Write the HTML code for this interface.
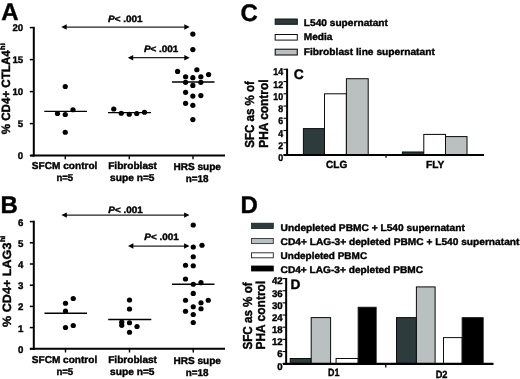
<!DOCTYPE html>
<html><head><meta charset="utf-8"><title>Figure</title>
<style>
html,body{margin:0;padding:0;background:#fff;}
svg{display:block;}
text{font-family:"Liberation Sans",sans-serif;font-weight:bold;fill:#000;stroke:#000;stroke-width:0.4px;text-rendering:geometricPrecision;}
</style></head><body>
<svg width="520" height="379" viewBox="0 0 520 379">
<defs><filter id="soft" x="0" y="0" width="520" height="379" filterUnits="userSpaceOnUse"><feGaussianBlur stdDeviation="0.4"/></filter></defs>
<rect x="0" y="0" width="520" height="379" fill="#fff"/>
<g filter="url(#soft)">
<text x="1.3" y="20.3" font-size="24" text-anchor="start" >A</text>
<line x1="33.8" y1="26.8" x2="33.8" y2="156.6" stroke="#000" stroke-width="2.0"/>
<line x1="30.4" y1="155.6" x2="225" y2="155.6" stroke="#000" stroke-width="2.0"/>
<line x1="29.8" y1="27.599999999999994" x2="33.8" y2="27.599999999999994" stroke="#000" stroke-width="1.5"/>
<text x="23.2" y="31.399999999999995" font-size="9.6" text-anchor="end" >20</text>
<line x1="29.8" y1="59.599999999999994" x2="33.8" y2="59.599999999999994" stroke="#000" stroke-width="1.5"/>
<text x="23.2" y="63.39999999999999" font-size="9.6" text-anchor="end" >15</text>
<line x1="29.8" y1="91.6" x2="33.8" y2="91.6" stroke="#000" stroke-width="1.5"/>
<text x="23.2" y="95.39999999999999" font-size="9.6" text-anchor="end" >10</text>
<line x1="29.8" y1="123.6" x2="33.8" y2="123.6" stroke="#000" stroke-width="1.5"/>
<text x="23.2" y="127.39999999999999" font-size="9.6" text-anchor="end" >5</text>
<line x1="29.8" y1="155.6" x2="33.8" y2="155.6" stroke="#000" stroke-width="1.5"/>
<text x="23.2" y="159.4" font-size="9.6" text-anchor="end" >0</text>
<line x1="65.3" y1="155.6" x2="65.3" y2="159.2" stroke="#000" stroke-width="1.4"/>
<line x1="129.3" y1="155.6" x2="129.3" y2="159.2" stroke="#000" stroke-width="1.4"/>
<line x1="193" y1="155.6" x2="193" y2="159.2" stroke="#000" stroke-width="1.4"/>
<text transform="translate(10.4,134.3) rotate(-90)" font-size="12" textLength="84" lengthAdjust="spacingAndGlyphs">% CD4+ CTLA4</text>
<text transform="translate(5.3,49.9) rotate(-90)" font-size="7.5" textLength="6.6" lengthAdjust="spacingAndGlyphs">hi</text>
<line x1="64.3" y1="27" x2="186.7" y2="27" stroke="#222" stroke-width="1.25"/>
<polygon points="61.3,27 66.7,24.3 66.7,29.7"/>
<polygon points="189.7,27 184.29999999999998,24.3 184.29999999999998,29.7"/>
<line x1="130.8" y1="57.7" x2="186.7" y2="57.7" stroke="#222" stroke-width="1.25"/>
<polygon points="127.8,57.7 133.2,55.0 133.2,60.400000000000006"/>
<polygon points="189.7,57.7 184.29999999999998,55.0 184.29999999999998,60.400000000000006"/>
<text x="108.1" y="21.9" font-size="9.3" textLength="34.5" lengthAdjust="spacingAndGlyphs"><tspan font-style="italic">P</tspan>&lt; .001</text>
<text x="143.9" y="51.9" font-size="9.3" textLength="34.5" lengthAdjust="spacingAndGlyphs"><tspan font-style="italic">P</tspan>&lt; .001</text>
<circle cx="65.25" cy="86.5" r="2.62"/>
<circle cx="73" cy="109.75" r="2.62"/>
<circle cx="57.5" cy="113.5" r="2.62"/>
<circle cx="65.25" cy="114.5" r="2.62"/>
<circle cx="65.25" cy="132.25" r="2.62"/>
<circle cx="113.75" cy="109.0" r="2.62"/>
<circle cx="121.25" cy="113.25" r="2.62"/>
<circle cx="129.25" cy="114.25" r="2.62"/>
<circle cx="136.75" cy="113.5" r="2.62"/>
<circle cx="144.5" cy="112.25" r="2.62"/>
<circle cx="192.85" cy="34.1" r="2.62"/>
<circle cx="192.85" cy="49.6" r="2.62"/>
<circle cx="196.85" cy="69.75" r="2.62"/>
<circle cx="177.6" cy="71.44999999999999" r="2.62"/>
<circle cx="208.6" cy="74.6" r="2.62"/>
<circle cx="185.6" cy="76.75" r="2.62"/>
<circle cx="192.85" cy="77.64999999999999" r="2.62"/>
<circle cx="200.85" cy="76.75" r="2.62"/>
<circle cx="185.6" cy="82.35" r="2.62"/>
<circle cx="200.85" cy="82.35" r="2.62"/>
<circle cx="192.85" cy="85.44999999999999" r="2.62"/>
<circle cx="185.6" cy="92.35" r="2.62"/>
<circle cx="192.85" cy="96.1" r="2.62"/>
<circle cx="200.85" cy="95.55" r="2.62"/>
<circle cx="185.6" cy="103.35" r="2.62"/>
<circle cx="192.85" cy="105.35" r="2.62"/>
<circle cx="192.85" cy="119.6" r="2.62"/>
<line x1="44.3" y1="111.35" x2="87" y2="111.35" stroke="#000" stroke-width="1.4"/>
<line x1="108" y1="112.6" x2="151" y2="112.6" stroke="#000" stroke-width="1.4"/>
<line x1="172" y1="82" x2="214.5" y2="82" stroke="#000" stroke-width="1.4"/>
<text x="64.6" y="168.6" font-size="10" text-anchor="middle" textLength="65.6" lengthAdjust="spacingAndGlyphs" >SFCM control</text>
<text x="64.8" y="181.1" font-size="10" text-anchor="middle" textLength="16.8" lengthAdjust="spacingAndGlyphs" >n=5</text>
<text x="132.6" y="168.6" font-size="10" text-anchor="middle" textLength="48.8" lengthAdjust="spacingAndGlyphs" >Fibroblast</text>
<text x="132.3" y="180.7" font-size="10" text-anchor="middle" textLength="44.5" lengthAdjust="spacingAndGlyphs" >supe n=5</text>
<text x="197.2" y="169.6" font-size="10" text-anchor="middle" textLength="47.5" lengthAdjust="spacingAndGlyphs" >HRS supe</text>
<text x="197.2" y="182.1" font-size="10" text-anchor="middle" textLength="22.8" lengthAdjust="spacingAndGlyphs" >n=18</text>
<text x="0.5" y="213.3" font-size="24" text-anchor="start" >B</text>
<line x1="33.8" y1="220.7" x2="33.8" y2="349.8" stroke="#000" stroke-width="2.0"/>
<line x1="30" y1="348.8" x2="225" y2="348.8" stroke="#000" stroke-width="2.0"/>
<line x1="29.8" y1="348.8" x2="33.8" y2="348.8" stroke="#000" stroke-width="1.5"/>
<text x="23.5" y="352.8" font-size="9.7" text-anchor="end" >0</text>
<line x1="29.8" y1="327.6" x2="33.8" y2="327.6" stroke="#000" stroke-width="1.5"/>
<text x="23.5" y="331.6" font-size="9.7" text-anchor="end" >1</text>
<line x1="29.8" y1="306.40000000000003" x2="33.8" y2="306.40000000000003" stroke="#000" stroke-width="1.5"/>
<text x="23.5" y="310.40000000000003" font-size="9.7" text-anchor="end" >2</text>
<line x1="29.8" y1="285.20000000000005" x2="33.8" y2="285.20000000000005" stroke="#000" stroke-width="1.5"/>
<text x="23.5" y="289.20000000000005" font-size="9.7" text-anchor="end" >3</text>
<line x1="29.8" y1="264.0" x2="33.8" y2="264.0" stroke="#000" stroke-width="1.5"/>
<text x="23.5" y="268.0" font-size="9.7" text-anchor="end" >4</text>
<line x1="29.8" y1="242.8" x2="33.8" y2="242.8" stroke="#000" stroke-width="1.5"/>
<text x="23.5" y="246.8" font-size="9.7" text-anchor="end" >5</text>
<line x1="29.8" y1="221.60000000000002" x2="33.8" y2="221.60000000000002" stroke="#000" stroke-width="1.5"/>
<text x="23.5" y="225.60000000000002" font-size="9.7" text-anchor="end" >6</text>
<line x1="65.5" y1="348.8" x2="65.5" y2="352.5" stroke="#000" stroke-width="1.4"/>
<line x1="129.5" y1="348.8" x2="129.5" y2="352.5" stroke="#000" stroke-width="1.4"/>
<line x1="193.25" y1="348.8" x2="193.25" y2="352.5" stroke="#000" stroke-width="1.4"/>
<text transform="translate(10.5,327) rotate(-90)" font-size="12" textLength="84.4" lengthAdjust="spacingAndGlyphs">% CD4+ LAG3</text>
<text transform="translate(5.3,242.1) rotate(-90)" font-size="7.5" textLength="6.4" lengthAdjust="spacingAndGlyphs">hi</text>
<line x1="64.4" y1="215.1" x2="186.5" y2="215.1" stroke="#222" stroke-width="1.25"/>
<polygon points="61.4,215.1 66.8,212.4 66.8,217.79999999999998"/>
<polygon points="189.5,215.1 184.1,212.4 184.1,217.79999999999998"/>
<line x1="131" y1="246" x2="186.5" y2="246" stroke="#222" stroke-width="1.25"/>
<polygon points="128,246 133.4,243.3 133.4,248.7"/>
<polygon points="189.5,246 184.1,243.3 184.1,248.7"/>
<text x="108.3" y="212.7" font-size="9.3" textLength="34.5" lengthAdjust="spacingAndGlyphs"><tspan font-style="italic">P</tspan>&lt; .001</text>
<text x="144.3" y="240.2" font-size="9.3" textLength="34.5" lengthAdjust="spacingAndGlyphs"><tspan font-style="italic">P</tspan>&lt; .001</text>
<circle cx="73.25" cy="298.5" r="2.62"/>
<circle cx="65.5" cy="303.25" r="2.62"/>
<circle cx="65.5" cy="311" r="2.62"/>
<circle cx="73.25" cy="325.5" r="2.62"/>
<circle cx="65.5" cy="327.5" r="2.62"/>
<circle cx="129.5" cy="300" r="2.62"/>
<circle cx="129.5" cy="309" r="2.62"/>
<circle cx="121.75" cy="322.2" r="2.62"/>
<circle cx="121.75" cy="325.3" r="2.62"/>
<circle cx="129.5" cy="322.75" r="2.62"/>
<circle cx="137" cy="326.5" r="2.62"/>
<circle cx="129.5" cy="332.25" r="2.62"/>
<circle cx="193.25" cy="225" r="2.62"/>
<circle cx="202" cy="245.25" r="2.62"/>
<circle cx="193.25" cy="247" r="2.62"/>
<circle cx="193.25" cy="256.75" r="2.62"/>
<circle cx="185.5" cy="265.25" r="2.62"/>
<circle cx="193.25" cy="265.75" r="2.62"/>
<circle cx="185.5" cy="279" r="2.62"/>
<circle cx="201" cy="282.7" r="2.62"/>
<circle cx="193.25" cy="284.25" r="2.62"/>
<circle cx="193.25" cy="293.4" r="2.62"/>
<circle cx="185.5" cy="300.25" r="2.62"/>
<circle cx="208.25" cy="300.25" r="2.62"/>
<circle cx="201" cy="302.75" r="2.62"/>
<circle cx="193.25" cy="306.75" r="2.62"/>
<circle cx="201" cy="308.75" r="2.62"/>
<circle cx="185.5" cy="311.25" r="2.62"/>
<circle cx="193.25" cy="314.5" r="2.62"/>
<circle cx="193.25" cy="322.5" r="2.62"/>
<line x1="44.5" y1="313.3" x2="87" y2="313.3" stroke="#000" stroke-width="1.4"/>
<line x1="108.2" y1="319.5" x2="151.3" y2="319.5" stroke="#000" stroke-width="1.4"/>
<line x1="172" y1="284.2" x2="214.5" y2="284.2" stroke="#000" stroke-width="1.4"/>
<text x="64.5" y="362.9" font-size="10" text-anchor="middle" textLength="65.4" lengthAdjust="spacingAndGlyphs" >SFCM control</text>
<text x="64.8" y="375.3" font-size="10" text-anchor="middle" textLength="16.8" lengthAdjust="spacingAndGlyphs" >n=5</text>
<text x="132.6" y="362.7" font-size="10" text-anchor="middle" textLength="48.8" lengthAdjust="spacingAndGlyphs" >Fibroblast</text>
<text x="132.3" y="374.7" font-size="10" text-anchor="middle" textLength="44.5" lengthAdjust="spacingAndGlyphs" >supe n=5</text>
<text x="197.2" y="363.5" font-size="10" text-anchor="middle" textLength="47.5" lengthAdjust="spacingAndGlyphs" >HRS supe</text>
<text x="197.2" y="376.1" font-size="10" text-anchor="middle" textLength="22.8" lengthAdjust="spacingAndGlyphs" >n=18</text>
<text x="240.4" y="20.9" font-size="24" text-anchor="start" >C</text>
<rect x="275.2" y="19" width="22.10" height="5.30" fill="#2f3b3c" stroke="#101616" stroke-width="1.0"/>
<rect x="275.2" y="34.5" width="22.10" height="5.60" fill="#fff" stroke="#111" stroke-width="1.0"/>
<rect x="275.2" y="49.2" width="22.10" height="5.80" fill="#b9c0bf" stroke="#111" stroke-width="1.1"/>
<text x="303.8" y="26.4" font-size="9.7" text-anchor="start" textLength="84.1" lengthAdjust="spacingAndGlyphs" >L540 supernatant</text>
<text x="303.8" y="40.4" font-size="9.7" text-anchor="start" textLength="28.7" lengthAdjust="spacingAndGlyphs" >Media</text>
<text x="303.8" y="54.6" font-size="9.7" text-anchor="start" textLength="131" lengthAdjust="spacingAndGlyphs" >Fibroblast line supernatant</text>
<text x="293.7" y="78.6" font-size="13.8" text-anchor="start" >C</text>
<rect x="303.4" y="128.6" width="21.10" height="26.40" fill="#2f3b3c" stroke="#0a0a0a" stroke-width="1.0"/>
<rect x="324.5" y="93.8" width="21.90" height="61.20" fill="#fff" stroke="#0a0a0a" stroke-width="1.0"/>
<rect x="346.4" y="78.7" width="21.80" height="76.30" fill="#b9c0bf" stroke="#0a0a0a" stroke-width="1.0"/>
<rect x="402.4" y="152" width="21.40" height="3.00" fill="#2f3b3c" stroke="#0a0a0a" stroke-width="1.0"/>
<rect x="423.8" y="134.4" width="21.70" height="20.60" fill="#fff" stroke="#0a0a0a" stroke-width="1.0"/>
<rect x="445.5" y="136.6" width="21.50" height="18.40" fill="#b9c0bf" stroke="#0a0a0a" stroke-width="1.0"/>
<line x1="287.1" y1="68.6" x2="287.1" y2="156" stroke="#000" stroke-width="2.0"/>
<line x1="283.5" y1="155.0" x2="484" y2="155.0" stroke="#000" stroke-width="2.0"/>
<line x1="386" y1="155" x2="386" y2="157.8" stroke="#000" stroke-width="1.3"/>
<line x1="283.5" y1="155.0" x2="287.1" y2="155.0" stroke="#000" stroke-width="1.1"/>
<text transform="translate(283.1,161.10) scale(0.9,1)" font-size="9.8" text-anchor="end">0</text>
<line x1="283.5" y1="142.76" x2="287.1" y2="142.76" stroke="#000" stroke-width="1.1"/>
<text transform="translate(283.1,148.86) scale(0.9,1)" font-size="9.8" text-anchor="end">2</text>
<line x1="283.5" y1="130.52" x2="287.1" y2="130.52" stroke="#000" stroke-width="1.1"/>
<text transform="translate(283.1,136.62) scale(0.9,1)" font-size="9.8" text-anchor="end">4</text>
<line x1="283.5" y1="118.28" x2="287.1" y2="118.28" stroke="#000" stroke-width="1.1"/>
<text transform="translate(283.1,124.38) scale(0.9,1)" font-size="9.8" text-anchor="end">6</text>
<line x1="283.5" y1="106.03999999999999" x2="287.1" y2="106.03999999999999" stroke="#000" stroke-width="1.1"/>
<text transform="translate(283.1,112.14) scale(0.9,1)" font-size="9.8" text-anchor="end">8</text>
<line x1="283.5" y1="93.8" x2="287.1" y2="93.8" stroke="#000" stroke-width="1.1"/>
<text transform="translate(283.1,99.90) scale(0.9,1)" font-size="9.8" text-anchor="end">10</text>
<line x1="283.5" y1="81.56" x2="287.1" y2="81.56" stroke="#000" stroke-width="1.1"/>
<text transform="translate(283.1,87.66) scale(0.9,1)" font-size="9.8" text-anchor="end">12</text>
<line x1="283.5" y1="69.32" x2="287.1" y2="69.32" stroke="#000" stroke-width="1.1"/>
<text transform="translate(283.1,75.42) scale(0.9,1)" font-size="9.8" text-anchor="end">14</text>
<text transform="translate(254.3,147.7) rotate(-90)" font-size="13" textLength="66.6" lengthAdjust="spacingAndGlyphs">SFC as % of</text>
<text transform="translate(268.1,147.7) rotate(-90)" font-size="13" textLength="68.2" lengthAdjust="spacingAndGlyphs">PHA control</text>
<text x="336.7" y="167.7" font-size="10.3" text-anchor="middle" textLength="21.2" lengthAdjust="spacingAndGlyphs" >CLG</text>
<text x="435.2" y="168" font-size="10.3" text-anchor="middle" textLength="18.2" lengthAdjust="spacingAndGlyphs" >FLY</text>
<text x="240.5" y="213.3" font-size="24" text-anchor="start" >D</text>
<rect x="251.5" y="223.2" width="21.80" height="5.40" fill="#2f3b3c" stroke="#1a2222" stroke-width="0.8"/>
<rect x="251.5" y="238.5" width="21.80" height="5.10" fill="#b9c0bf" stroke="#333" stroke-width="0.9"/>
<rect x="251.5" y="252.8" width="21.80" height="5.00" fill="#fff" stroke="#222" stroke-width="0.9"/>
<rect x="251.5" y="266" width="21.80" height="5.00" fill="#000" stroke="#000" stroke-width="0.8"/>
<text x="280.6" y="230.6" font-size="9.7" text-anchor="start" textLength="184.2" lengthAdjust="spacingAndGlyphs" >Undepleted PBMC + L540 supernatant</text>
<text x="280.6" y="244.5" font-size="9.7" text-anchor="start" textLength="238.8" lengthAdjust="spacingAndGlyphs" >CD4+ LAG-3+ depleted PBMC + L540 supernatant</text>
<text x="280.6" y="258.7" font-size="9.7" text-anchor="start" textLength="86.5" lengthAdjust="spacingAndGlyphs" >Undepleted PBMC</text>
<text x="280.6" y="272.5" font-size="9.7" text-anchor="start" textLength="142.5" lengthAdjust="spacingAndGlyphs" >CD4+ LAG-3+ depleted PBMC</text>
<text x="290.5" y="289.1" font-size="13.7" text-anchor="start" >D</text>
<rect x="290.2" y="358.5" width="21.00" height="5.20" fill="#2f3b3c" stroke="#0a0a0a" stroke-width="1.0"/>
<rect x="311.2" y="317.6" width="19.40" height="46.10" fill="#b9c0bf" stroke="#0a0a0a" stroke-width="1.0"/>
<rect x="336.1" y="358.5" width="22.10" height="5.20" fill="#fff" stroke="#0a0a0a" stroke-width="1.0"/>
<rect x="358.2" y="307.3" width="17.90" height="56.40" fill="#000" stroke="#0a0a0a" stroke-width="1.0"/>
<rect x="396.5" y="317.6" width="19.90" height="46.10" fill="#2f3b3c" stroke="#0a0a0a" stroke-width="1.0"/>
<rect x="416.4" y="286.9" width="18.70" height="76.80" fill="#b9c0bf" stroke="#0a0a0a" stroke-width="1.0"/>
<rect x="443.5" y="337.6" width="18.70" height="26.10" fill="#fff" stroke="#0a0a0a" stroke-width="1.0"/>
<rect x="462.2" y="317.7" width="20.90" height="46.00" fill="#000" stroke="#0a0a0a" stroke-width="1.0"/>
<line x1="286.15" y1="278" x2="286.15" y2="364.7" stroke="#000" stroke-width="2.0"/>
<line x1="283" y1="363.85" x2="493.5" y2="363.85" stroke="#000" stroke-width="2.1"/>
<line x1="385.8" y1="363.9" x2="385.8" y2="367.4" stroke="#000" stroke-width="1.3"/>
<line x1="282.5" y1="363.7" x2="286.15" y2="363.7" stroke="#000" stroke-width="1.1"/>
<text transform="translate(282.6,369.60) scale(0.98,1)" font-size="9.8" text-anchor="end">0</text>
<line x1="282.5" y1="351.538" x2="286.15" y2="351.538" stroke="#000" stroke-width="1.1"/>
<text transform="translate(282.6,357.44) scale(0.98,1)" font-size="9.8" text-anchor="end">6</text>
<line x1="282.5" y1="339.376" x2="286.15" y2="339.376" stroke="#000" stroke-width="1.1"/>
<text transform="translate(282.6,345.28) scale(0.98,1)" font-size="9.8" text-anchor="end">12</text>
<line x1="282.5" y1="327.214" x2="286.15" y2="327.214" stroke="#000" stroke-width="1.1"/>
<text transform="translate(282.6,333.11) scale(0.98,1)" font-size="9.8" text-anchor="end">18</text>
<line x1="282.5" y1="315.05199999999996" x2="286.15" y2="315.05199999999996" stroke="#000" stroke-width="1.1"/>
<text transform="translate(282.6,320.95) scale(0.98,1)" font-size="9.8" text-anchor="end">24</text>
<line x1="282.5" y1="302.89" x2="286.15" y2="302.89" stroke="#000" stroke-width="1.1"/>
<text transform="translate(282.6,308.79) scale(0.98,1)" font-size="9.8" text-anchor="end">30</text>
<line x1="282.5" y1="290.72799999999995" x2="286.15" y2="290.72799999999995" stroke="#000" stroke-width="1.1"/>
<text transform="translate(282.6,296.63) scale(0.98,1)" font-size="9.8" text-anchor="end">36</text>
<line x1="282.5" y1="278.566" x2="286.15" y2="278.566" stroke="#000" stroke-width="1.1"/>
<text transform="translate(282.6,284.47) scale(0.98,1)" font-size="9.8" text-anchor="end">42</text>
<text transform="translate(251.6,349.6) rotate(-90)" font-size="13" textLength="67.3" lengthAdjust="spacingAndGlyphs">SFC as % of</text>
<text transform="translate(265.1,349.6) rotate(-90)" font-size="13" textLength="68.8" lengthAdjust="spacingAndGlyphs">PHA control</text>
<text x="333.7" y="376.2" font-size="10.5" text-anchor="middle" textLength="11.4" lengthAdjust="spacingAndGlyphs" >D1</text>
<text x="441.6" y="378" font-size="10.5" text-anchor="middle" textLength="11.8" lengthAdjust="spacingAndGlyphs" >D2</text>
</g>
</svg>
</body></html>
